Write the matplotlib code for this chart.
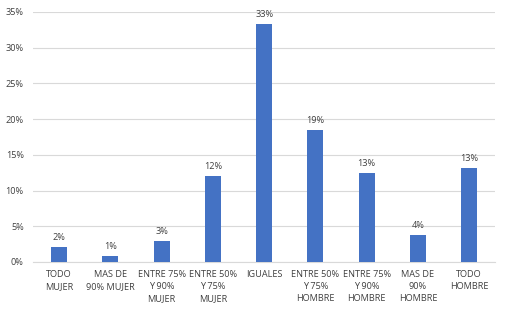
import matplotlib
matplotlib.use("Agg")
import matplotlib.pyplot as plt
import numpy as np

categories = ["TODO\nMUJER", "MAS DE\n90% MUJER", "ENTRE 75%\nY 90%\nMUJER",
              "ENTRE 50%\nY 75%\nMUJER", "IGUALES", "ENTRE 50%\nY 75%\nHOMBRE",
              "ENTRE 75%\nY 90%\nHOMBRE", "MAS DE\n90%\nHOMBRE", "TODO\nHOMBRE"]
values = [2.1, 0.8, 2.9, 12.0, 33.3, 18.5, 12.5, 3.8, 13.2]
labels = ["2%", "1%", "3%", "12%", "33%", "19%", "13%", "4%", "13%"]

plt.rcParams['font.family'] = ['Open Sans', 'DejaVu Sans']
grey = "#404040"

fig = plt.figure(figsize=(5.07, 3.13), dpi=100)
ax = fig.add_axes([0.066, 0.163, 0.91, 0.799])

x = np.arange(len(categories))
ax.bar(x, values, width=0.31, color="#4472c4", zorder=3)
for xi, v, lab in zip(x, values, labels):
    ax.text(xi, v + 0.7, lab, ha="center", va="bottom", fontsize=6.6, color=grey)

ax.set_xlim(-0.5, len(categories) - 0.5)
ax.set_ylim(0, 35)
ax.set_yticks(np.arange(0, 36, 5))
ax.set_yticklabels(["{}%".format(t) for t in range(0, 36, 5)])
ax.set_xticks(x)
ax.set_xticklabels(categories, linespacing=1.4)
ax.tick_params(axis="both", length=0, labelsize=6.6, colors=grey)
ax.tick_params(axis="x", pad=6)
ax.tick_params(axis="y", pad=7)
ax.grid(axis="y", color="#d9d9d9", linewidth=0.8, zorder=0)
for s in ["top", "right", "left"]:
    ax.spines[s].set_visible(False)
ax.spines["bottom"].set_color("#d9d9d9")

fig.savefig("out.png", dpi=100)
